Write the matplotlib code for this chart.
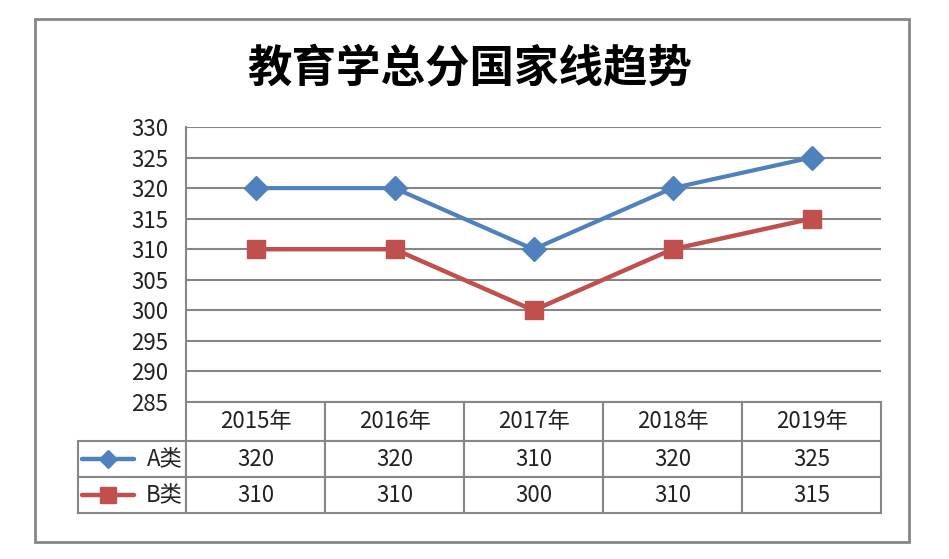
import matplotlib.pyplot as plt
from matplotlib.table import Table
from matplotlib.lines import Line2D
from matplotlib.patches import Rectangle

plt.rcParams['font.family'] = ['Noto Sans CJK SC', 'DejaVu Sans']

years = ['2015年', '2016年', '2017年', '2018年', '2019年']
a_vals = [320, 320, 310, 320, 325]
b_vals = [310, 310, 300, 310, 315]
series_names = ['A类', 'B类']
yticks = list(range(285, 331, 5))

blue = '#4F81BD'
red = '#C0504D'
grey = '#868686'

W, H = 949, 559
fig = plt.figure(figsize=(W / 100, H / 100), dpi=100)

# outer frame
fig.add_artist(Rectangle((35 / W, 1 - 542 / H), (909 - 35) / W, (542 - 19) / H,
                         transform=fig.transFigure, fill=False,
                         edgecolor=grey, linewidth=2))

ax = fig.add_axes([186 / W, 1 - 402 / H, (881 - 186) / W, (402 - 127) / H])
x = range(len(years))
ax.plot(x, a_vals, color=blue, lw=3, marker='D', ms=12, zorder=3)
ax.plot(x, b_vals, color=red, lw=3.2, marker='s', ms=13.5, zorder=3)

ax.set_xlim(-0.5, len(years) - 0.5)
ax.set_ylim(285, 330)
ax.set_yticks(yticks)
ax.set_xticks([])
ax.tick_params(axis='y', length=0, pad=13, labelsize=16, labelcolor='#222222')
for y in yticks:
    ax.axhline(y, color=grey, lw=1.5, zorder=1)
for s in ['top', 'right', 'bottom']:
    ax.spines[s].set_visible(False)
ax.spines['left'].set_color(grey)
ax.spines['left'].set_linewidth(1.5)

fig.text(0.495, 1 - 68 / H, '教育学总分国家线趋势', ha='center', va='center',
         fontsize=32, fontweight='heavy')

# data table below the plot
lab_w, col_w = 108, 139
hh, rh = 39, 36
tot_w = lab_w + col_w * len(years)
tot_h = hh + 2 * rh
tb = Table(ax, bbox=[-lab_w / 695, -tot_h / 275, tot_w / 695, tot_h / 275])
for j, yr in enumerate(years):
    tb.add_cell(0, j + 1, col_w, hh, text=yr, loc='center')
for i, vals in enumerate([a_vals, b_vals]):
    tb.add_cell(i + 1, 0, lab_w, rh, text=series_names[i], loc='right')
    for j, v in enumerate(vals):
        tb.add_cell(i + 1, j + 1, col_w, rh, text=str(v), loc='center')
tb.auto_set_font_size(False)
tb.set_fontsize(16)
for c in tb.get_celld().values():
    c.set_edgecolor(grey)
    c.set_linewidth(1.5)
    c.PAD = 0.03
    c.get_text().set_color('#222222')
ax.add_table(tb)

# legend keys inside the row label cells
for i, (col, mk, ms) in enumerate([(blue, 'D', 9), (red, 's', 11)]):
    yk = 1 - (459 if i == 0 else 495) / H
    fig.add_artist(Line2D([82 / W, 134 / W], [yk, yk], transform=fig.transFigure,
                          color=col, lw=3.2, solid_capstyle='round'))
    fig.add_artist(Line2D([108 / W], [yk], transform=fig.transFigure,
                          color=col, marker=mk, ms=ms, lw=0))

fig.savefig('out.png', dpi=100)
